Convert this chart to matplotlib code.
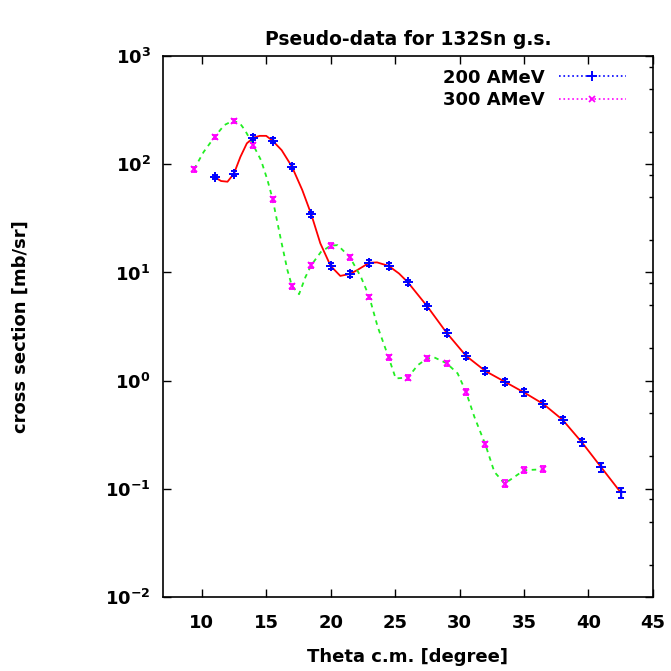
import matplotlib
matplotlib.use("Agg")
import matplotlib.pyplot as plt
from matplotlib.lines import Line2D
from matplotlib.ticker import FixedLocator, NullFormatter

plt.rcParams['font.family'] = ['DejaVu Sans']
plt.rcParams['font.weight'] = 'bold'
plt.rcParams['mathtext.fontset'] = 'custom'
plt.rcParams['mathtext.rm'] = 'DejaVu Sans:bold'
plt.rcParams['mathtext.it'] = 'DejaVu Sans:bold'
plt.rcParams['mathtext.bf'] = 'DejaVu Sans:bold'

# pseudo-data points (with error bars)
theta_200 = [11, 12.5, 14, 15.5, 17, 18.5, 20, 21.5, 23, 24.5, 26, 27.5, 29, 30.5,
             32, 33.5, 35, 36.5, 38, 39.5, 41, 42.5]
xs_200 = [76, 82, 176, 165, 95, 34.4, 11.5, 9.7, 12.3, 11.5, 8.1, 4.86, 2.77, 1.70,
          1.23, 0.98, 0.78, 0.61, 0.435, 0.269, 0.158, 0.093]
err_200 = [3, 4, 9, 8, 5, 2, 0.7, 0.6, 0.7, 0.7, 0.5, 0.3, 0.18, 0.1,
           0.08, 0.06, 0.05, 0.04, 0.03, 0.02, 0.014, 0.01]

theta_300 = [9.4, 11, 12.5, 14, 15.5, 17, 18.5, 20, 21.5, 23, 24.5, 26, 27.5, 29,
             30.5, 32, 33.5, 35, 36.5]
xs_300 = [90, 179, 251, 150, 47.7, 7.5, 11.7, 17.7, 13.8, 5.96, 1.64, 1.07, 1.61, 1.45,
          0.79, 0.258, 0.112, 0.149, 0.152]
err_300 = [5, 9, 12, 8, 2.5, 0.4, 0.6, 0.9, 0.7, 0.3, 0.09, 0.06, 0.09, 0.08,
           0.045, 0.015, 0.008, 0.01, 0.01]

# calculated curves
curve_200_x = [11.0, 11.5, 12.0, 12.5, 13.0, 13.5, 14.0, 14.5, 15.0, 15.5, 16.2, 17.0,
               17.8, 18.5, 19.2, 20.0, 20.75, 21.5, 22.05, 23.0, 23.6, 24.5, 25.3, 26.0,
               27.5, 29.0, 30.5, 32.0, 33.5, 35.0, 36.5, 38.0, 39.5, 41.0, 42.5]
curve_200_y = [76, 70, 69, 82, 117, 156, 176, 183, 183, 165, 135, 95,
               57.8, 34.4, 18.6, 11.5, 9.3, 9.7, 10.5, 12.3, 12.4, 11.5, 9.8, 8.1,
               4.86, 2.77, 1.70, 1.23, 0.98, 0.78, 0.61, 0.435, 0.269, 0.158, 0.093]

curve_300_x = [9.4, 10.15, 11.0, 11.75, 12.4, 12.95, 13.35, 14.0, 14.6, 15.1, 15.5,
               16.15, 16.65, 17.0, 17.55, 18.05, 18.5, 19.25, 20.0, 20.55, 21.5, 22.35,
               23.0, 23.65, 24.5, 25.05, 26.0, 26.75, 27.5, 28.05, 29.0, 29.85, 30.5,
               31.15, 32.0, 32.7, 33.5, 34.25, 35.0, 36.5]
curve_300_y = [90, 130, 179, 230, 252, 240, 207, 150, 109, 71.5, 47.7,
               19.9, 10.5, 7.5, 6.3, 9.1, 11.7, 15.5, 17.7, 17.9, 13.8, 9.1,
               5.96, 3.15, 1.64, 1.05, 1.07, 1.39, 1.61, 1.64, 1.45, 1.17, 0.79,
               0.464, 0.258, 0.144, 0.112, 0.129, 0.149, 0.152]

fig = plt.figure(figsize=(6.71, 6.71), dpi=100)
ax = fig.add_axes([0.243, 0.110, 0.730, 0.8065])

ax.plot(curve_200_x, curve_200_y, color='#ff0000', lw=1.3)
ax.plot(curve_300_x, curve_300_y, color='#22ee22', lw=1.3, ls=(0, (2.5, 2.5)))

ax.errorbar(theta_200, xs_200, yerr=err_200, fmt='+', color='#0000ff', ms=7, mew=1.4,
            elinewidth=1, capsize=2.5, zorder=3)
ax.errorbar(theta_300, xs_300, yerr=err_300, fmt='x', color='#ff00ff', ms=5, mew=1.3,
            elinewidth=1, capsize=2.5, zorder=3)

ax.set_yscale('log')
ax.set_xlim(7, 45)
ax.set_ylim(1e-2, 1e3)
ax.set_xticks([10, 15, 20, 25, 30, 35, 40, 45])
ax.set_yticks([1e-2, 1e-1, 1e0, 1e1, 1e2, 1e3])

minor = [m * 10.0 ** k for k in range(-2, 3) for m in (2, 5, 8)]
ax.yaxis.set_minor_locator(FixedLocator(minor))
ax.yaxis.set_minor_formatter(NullFormatter())
ax.xaxis.set_minor_locator(FixedLocator([]))

ax.tick_params(which='major', direction='in', length=6, width=1, top=True, right=True,
               labelsize=13)
ax.tick_params(axis='x', which='major', pad=12)
ax.tick_params(axis='y', which='major', pad=9)
ax.tick_params(which='minor', direction='in', length=3, width=1, left=False, right=True)
for s in ax.spines.values():
    s.set_linewidth(1.2)

ax.set_title('Pseudo-data for 132Sn g.s.', fontsize=13.5, fontweight='bold', pad=8)
ax.set_xlabel('Theta c.m. [degree]', fontsize=13, fontweight='bold')
ax.xaxis.set_label_coords(0.5, -0.093)
ax.set_ylabel('cross section [mb/sr]', fontsize=13, fontweight='bold')
ax.yaxis.set_label_coords(-0.272, 0.5)

handles = [
    Line2D([], [], color='#0000ff', ls=':', lw=1.2, marker='+', ms=7, mew=1.4),
    Line2D([], [], color='#ff00ff', ls=':', lw=1.2, marker='x', ms=5, mew=1.3),
]
ax.legend(handles, ['200 AMeV', '300 AMeV'], loc='upper right', frameon=False,
          markerfirst=False, fontsize=13, handlelength=3.7, handletextpad=0.8,
          labelspacing=0.25, borderaxespad=0.3, borderpad=0.4,
          bbox_to_anchor=(0.97, 1.0))

fig.savefig('out.png', dpi=100)
